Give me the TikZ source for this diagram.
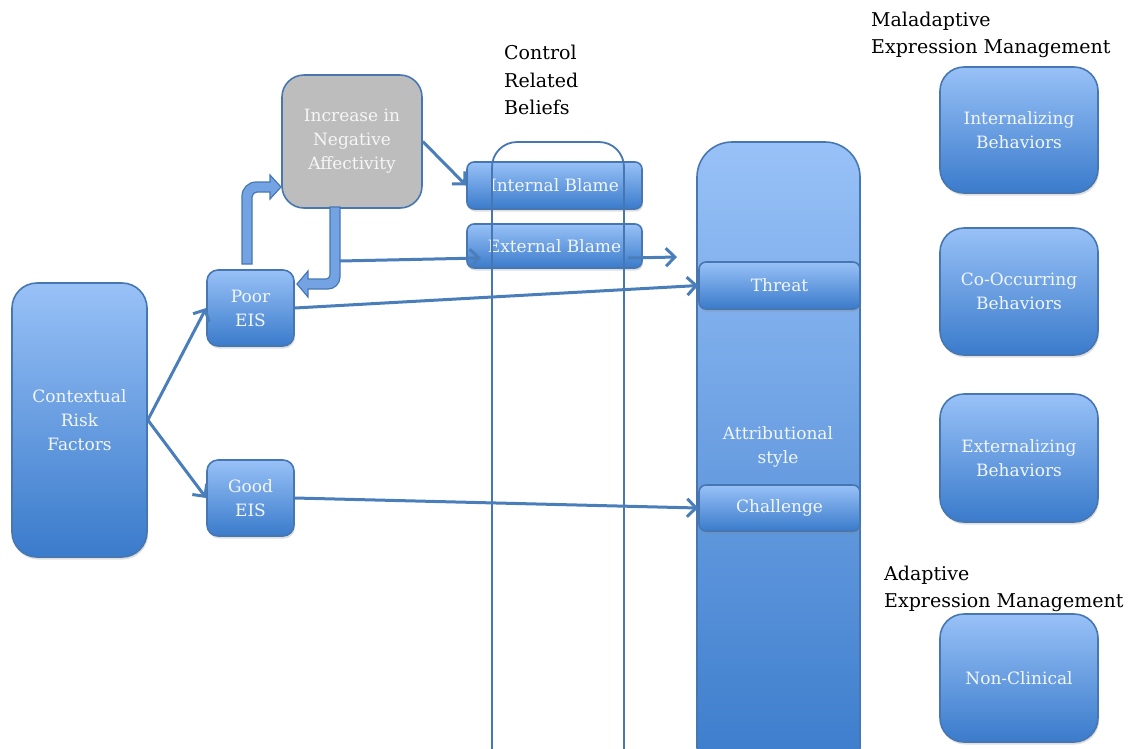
\documentclass[tikz,border=0pt]{standalone}
\usepackage{fontspec}
\setmainfont{DejaVu Serif}
\usetikzlibrary{arrows.meta,shadows}
\definecolor{bordc}{HTML}{4677B3}
\definecolor{topc}{HTML}{98C1F7}
\definecolor{botc}{HTML}{3A7BCB}
\definecolor{arrc}{HTML}{4A7EBB}
\definecolor{txtc}{HTML}{F2F6FB}
\definecolor{grayc}{HTML}{BDBDBD}
\definecolor{blockc}{HTML}{74A3E3}
\tikzset{
 box/.style={draw=bordc, line width=1.6pt, top color=topc, bottom color=botc, text=txtc, align=center,
   font=\fontsize{17}{24}\selectfont, inner sep=0pt,
   drop shadow={shadow xshift=1pt, shadow yshift=-2.5pt, opacity=0.25}},
 graybox/.style={draw=bordc, line width=1.6pt, fill=grayc, text=white!93!gray, align=center,
   font=\fontsize{17}{24}\selectfont, inner sep=0pt},
 lbl/.style={anchor=west, align=left, font=\fontsize{19}{27.5}\selectfont, text=black, inner sep=0pt},
 conn/.style={draw=arrc, line width=3pt, -{Straight Barb[length=9pt,width=18pt]}},
 blockarrow/.style={fill=blockc, draw=bordc, line width=1.2pt},
 outline/.style={draw=bordc, line width=1.8pt, rounded corners=25pt},
}
\begin{document}
\begin{tikzpicture}[x=1pt,y=-1pt]
\useasboundingbox (0,0) rectangle (1129,748);
\clip (0,0) rectangle (1129,748);

% left part
\node[box, rounded corners=25pt, minimum width=135pt, minimum height=274pt] (ctx) at (79.5,420) {Contextual\\Risk\\Factors};
\node[box, rounded corners=11pt, minimum width=87pt, minimum height=76pt] (poor) at (250.5,308) {Poor\\EIS};
\node[box, rounded corners=11pt, minimum width=87pt, minimum height=76pt] (good) at (250.5,498) {Good\\EIS};
\node[graybox, rounded corners=22pt, minimum width=140pt, minimum height=133pt] (neg) at (352,141.5) {Increase in\\Negative\\Affectivity};

% block arrows
\path[blockarrow] (242,264) [rounded corners=14pt]-- (242,182) [sharp corners]-- (270,182) -- (270,175) -- (281,187) -- (270,199) -- (270,192) [rounded corners=5pt]-- (252,192) [sharp corners]-- (252,264) -- cycle;
\path[blockarrow] (340,207) [rounded corners=12pt]-- (340,289) [sharp corners]-- (308,289) -- (308,297) -- (297,284) -- (308,271) -- (308,279) [rounded corners=4pt]-- (330,279) [sharp corners]-- (330,207) -- cycle;
\coordinate (shaft) at (340,261);

% control related beliefs
\node[box, rounded corners=7pt, minimum width=175pt, minimum height=47pt] (intb) at (554.5,185.5) {Internal Blame};
\node[box, rounded corners=7pt, minimum width=175pt, minimum height=44pt] (extb) at (554.5,246) {External Blame};
\node[outline, minimum width=132pt, minimum height=640pt] (ctrl) at (558,462) {};
\node[lbl] (ctrllbl) at (504,80) {Control\\Related\\Beliefs};

% attributional style
\node[box, rounded corners=35pt, minimum width=163pt, minimum height=640pt] (attr) at (778.5,462) {};
\node[text=txtc, align=center, font=\fontsize{17}{24}\selectfont, inner sep=0pt] (attrlbl) at (778,447) {Attributional\\style};
\node[box, rounded corners=7pt, minimum width=161pt, minimum height=47pt] (threat) at (779.5,285.5) {Threat};
\node[box, rounded corners=7pt, minimum width=161pt, minimum height=46pt] (chal) at (779.5,508) {Challenge};

% right column
\node[lbl] (malbl) at (871,35) {Maladaptive\\Expression Management};
\node[box, rounded corners=24pt, minimum width=158pt, minimum height=126pt] (intz) at (1019,130) {Internalizing\\Behaviors};
\node[box, rounded corners=24pt, minimum width=158pt, minimum height=127pt] (cooc) at (1019,291.5) {Co-Occurring\\Behaviors};
\node[box, rounded corners=24pt, minimum width=158pt, minimum height=128pt] (extz) at (1019,458) {Externalizing\\Behaviors};
\node[lbl] (adlbl) at (884,589) {Adaptive\\Expression Management};
\node[box, rounded corners=24pt, minimum width=158pt, minimum height=128pt] (noncl) at (1019,678) {Non-Clinical};

% connectors
\draw[conn] (ctx.east) -- (poor.west);
\draw[conn] (ctx.east) -- (good.west);
\draw[conn] (poor.east) -- (threat.west);
\draw[conn] (good.east) -- (chal.west);
\draw[conn] (neg.east) -- (intb.west);
\coordinate (extin) at (481,258);
\draw[conn] (shaft) -- (extin);
\coordinate (extout) at (628,258);
\coordinate (extend) at (677,257);
\draw[conn] (extout) -- (extend);
\end{tikzpicture}
\end{document}
